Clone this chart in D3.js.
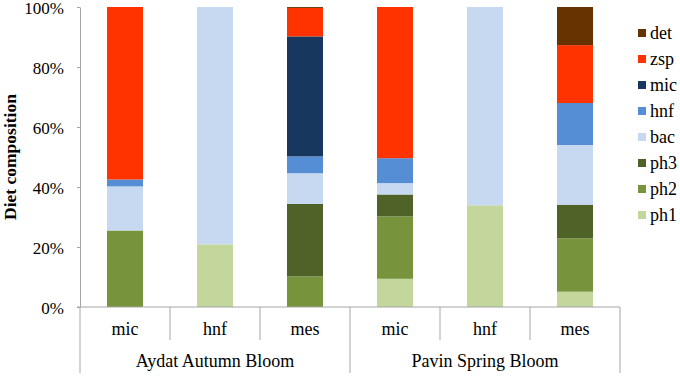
<!DOCTYPE html>
<html>
<head>
<meta charset="utf-8">
<script src="https://cdn.jsdelivr.net/npm/d3@7"></script>
<style>
  html, body { margin: 0; padding: 0; background: #fff; }
</style>
</head>
<body>
<div id="chart"></div>
<script>
// Diet composition stacked bars

const groups = ["Aydat Autumn Bloom", "Pavin Spring Bloom"];
const categories = ["mic", "hnf", "mes"];
const keys = ["ph1", "ph2", "ph3", "bac", "hnf", "mic", "zsp", "det"];
const colors = ["#c3d69b", "#77933c", "#4f6228", "#c6d9f1", "#558ed5", "#17375e", "#ff3300", "#663300"];
const yTicks = [0, 20, 40, 60, 80, 100];

// one value list per food type, bars in order: Aydat mic/hnf/mes, Pavin mic/hnf/mes
const ph1 = [0, 20.9, 0, 9.4, 33.9, 5.1];
const ph2 = [25.5, 0, 10.2, 20.8, 0, 17.8];
const ph3 = [0, 0, 24.2, 7.3, 0, 11.2];
const bac = [14.7, 79.1, 10.2, 3.8, 66.1, 19.9];
const hnf = [2.3, 0, 5.6, 8.3, 0, 14.0];
const mic = [0, 0, 40.0, 0, 0, 0];
const zsp = [57.5, 0, 9.5, 50.4, 0, 19.3];
const det = [0, 0, 0.3, 0, 0, 12.7];

const series = { ph1, ph2, ph3, bac, hnf, mic, zsp, det };

const rows = [];
groups.forEach((g, gi) => {
  categories.forEach((c, ci) => {
    const i = gi * categories.length + ci;
    const row = { id: g + "|" + c, group: g, cat: c };
    keys.forEach(k => row[k] = series[k][i]);
    rows.push(row);
  });
});

const FONT = "Liberation Serif, Times New Roman, serif";
const W = 680, H = 376;
const margin = { top: 7, right: 60, bottom: 69, left: 80 };
const width = 620 - margin.left;
const height = 307 - margin.top;

const svg = d3.select("#chart").append("svg")
  .attr("width", W)
  .attr("height", H)
  .attr("font-family", FONT);

const g = svg.append("g")
  .attr("transform", `translate(${margin.left},${margin.top})`);

const x = d3.scaleBand()
  .domain(rows.map(d => d.id))
  .range([0, width])
  .paddingInner(0.6)
  .paddingOuter(0.3);

const y = d3.scaleLinear().domain([0, 100]).range([height, 0]);

const color = d3.scaleOrdinal().domain(keys).range(colors);

const stacked = d3.stack().keys(keys)(rows);

// bars
g.selectAll(".layer")
  .data(stacked)
  .enter().append("g")
  .attr("class", "layer")
  .attr("fill", d => color(d.key))
  .selectAll("rect")
  .data(d => d)
  .enter().append("rect")
  .attr("x", d => x(d.data.id))
  .attr("width", x.bandwidth())
  .attr("y", d => y(d[1]))
  .attr("height", d => y(d[0]) - y(d[1]));

const lineColor = "#a6a6a6";

// y axis
const yAxis = g.append("g")
  .call(d3.axisLeft(y).tickValues(yTicks).tickFormat(d => d + "%").tickSize(3).tickSizeOuter(0))
  .attr("font-family", FONT)
  .attr("font-size", 17);
yAxis.select(".domain").attr("stroke", lineColor);
yAxis.selectAll(".tick line").attr("stroke", lineColor);
yAxis.selectAll(".tick text")
  .attr("x", -16)
  .attr("dy", "0.38em")
  .attr("fill", "#000");

// y title
svg.append("text")
  .attr("transform", "rotate(-90)")
  .attr("x", -157)
  .attr("y", 16)
  .attr("text-anchor", "middle")
  .attr("font-size", 17.5)
  .attr("font-weight", "bold")
  .text("Diet composition");

// baseline
g.append("line")
  .attr("x1", -3).attr("x2", width)
  .attr("y1", height).attr("y2", height)
  .attr("stroke", lineColor);

// multi-level category axis
const step = width / rows.length;
const groupW = step * categories.length;

rows.forEach((d, i) => {
  g.append("text")
    .attr("x", step * i + step / 2)
    .attr("y", height + 28)
    .attr("text-anchor", "middle")
    .attr("font-size", 18)
    .text(d.cat);
  if (i % categories.length !== 0) {
    g.append("line")
      .attr("x1", step * i).attr("x2", step * i)
      .attr("y1", height).attr("y2", height + 33)
      .attr("stroke", lineColor);
  }
});

groups.forEach((grp, gi) => {
  g.append("text")
    .attr("x", groupW * gi + groupW / 2)
    .attr("y", height + 60)
    .attr("text-anchor", "middle")
    .attr("font-size", 18)
    .text(grp);
});
d3.range(groups.length + 1).forEach(gi => {
  g.append("line")
    .attr("x1", groupW * gi).attr("x2", groupW * gi)
    .attr("y1", height).attr("y2", height + 66)
    .attr("stroke", lineColor);
});

// legend, top item is last stack key
const legend = svg.append("g").attr("transform", "translate(638,0)");
keys.slice().reverse().forEach((k, i) => {
  const row = legend.append("g").attr("transform", `translate(0,${33 + i * 26})`);
  row.append("rect")
    .attr("x", 0).attr("y", -4)
    .attr("width", 8).attr("height", 8)
    .attr("fill", color(k));
  row.append("text")
    .attr("x", 12)
    .attr("y", 0)
    .attr("dy", "0.35em")
    .attr("font-size", 18)
    .text(k);
});
</script>
</body>
</html>
